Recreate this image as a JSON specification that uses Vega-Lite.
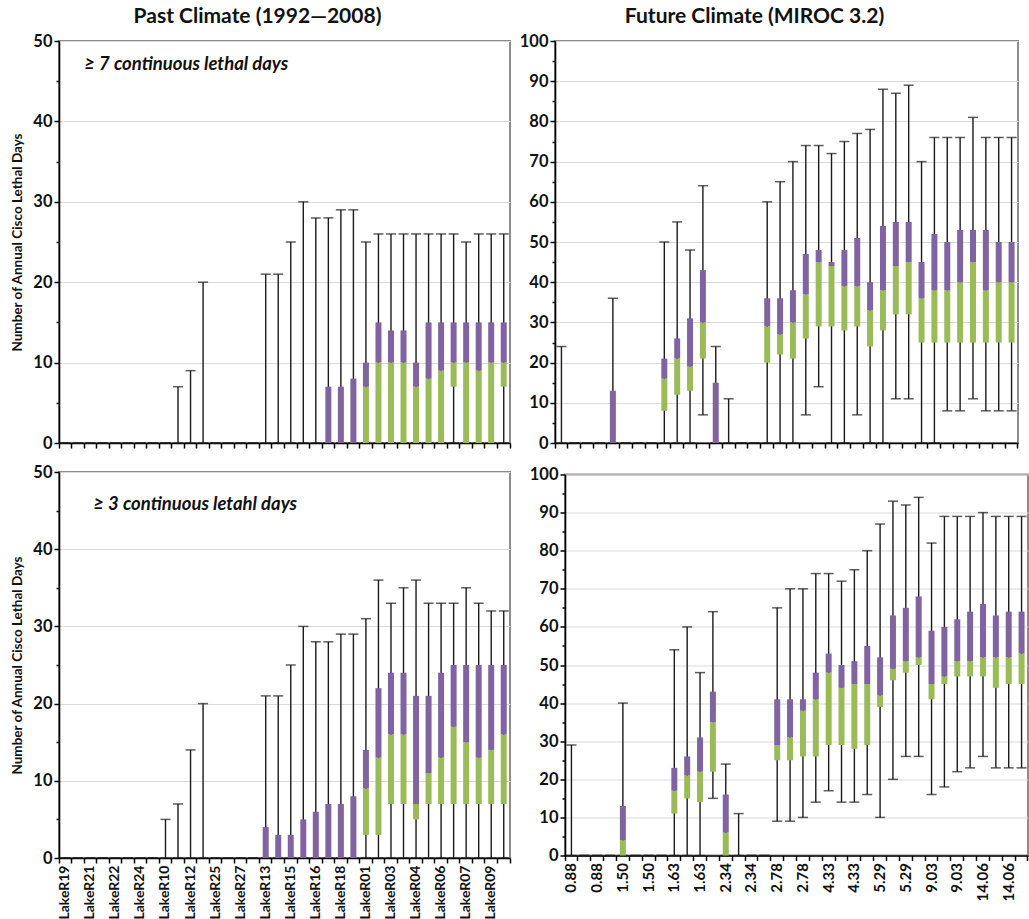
{
  "$schema": "https://vega.github.io/schema/vega-lite/v6.json",
  "background": "white",
  "padding": {"left": 9, "top": 5, "right": 0, "bottom": 0},
  "config": {
    "view": {"stroke": "#8c8c8c", "strokeWidth": 2},
    "font": "Lato",
    "axis": {"labelFont": "Lato", "titleFont": "Lato"}
  },
  "datasets": {
    "past7": [
      {"k":0,"lo":0,"q1":0,"med":0,"q3":0,"hi":0},{"k":1,"lo":0,"q1":0,"med":0,"q3":0,"hi":0},{"k":2,"lo":0,"q1":0,"med":0,"q3":0,"hi":0},{"k":3,"lo":0,"q1":0,"med":0,"q3":0,"hi":0},
      {"k":4,"lo":0,"q1":0,"med":0,"q3":0,"hi":0},{"k":5,"lo":0,"q1":0,"med":0,"q3":0,"hi":0},{"k":6,"lo":0,"q1":0,"med":0,"q3":0,"hi":0},{"k":7,"lo":0,"q1":0,"med":0,"q3":0,"hi":0},
      {"k":8,"lo":0,"q1":0,"med":0,"q3":0,"hi":0},{"k":9,"lo":0,"q1":0,"med":0,"q3":0,"hi":7},{"k":10,"lo":0,"q1":0,"med":0,"q3":0,"hi":9},{"k":11,"lo":0,"q1":0,"med":0,"q3":0,"hi":20},
      {"k":12,"lo":0,"q1":0,"med":0,"q3":0,"hi":0},{"k":13,"lo":0,"q1":0,"med":0,"q3":0,"hi":0},{"k":14,"lo":0,"q1":0,"med":0,"q3":0,"hi":0},{"k":15,"lo":0,"q1":0,"med":0,"q3":0,"hi":0},
      {"k":16,"lo":0,"q1":0,"med":0,"q3":0,"hi":21},{"k":17,"lo":0,"q1":0,"med":0,"q3":0,"hi":21},{"k":18,"lo":0,"q1":0,"med":0,"q3":0,"hi":25},{"k":19,"lo":0,"q1":0,"med":0,"q3":0,"hi":30},
      {"k":20,"lo":0,"q1":0,"med":0,"q3":0,"hi":28},{"k":21,"lo":0,"q1":0,"med":0,"q3":7,"hi":28},{"k":22,"lo":0,"q1":0,"med":0,"q3":7,"hi":29},{"k":23,"lo":0,"q1":0,"med":0,"q3":8,"hi":29},
      {"k":24,"lo":0,"q1":0,"med":7,"q3":10,"hi":25},{"k":25,"lo":0,"q1":0,"med":10,"q3":15,"hi":26},{"k":26,"lo":0,"q1":0,"med":10,"q3":14,"hi":26},{"k":27,"lo":0,"q1":0,"med":10,"q3":14,"hi":26},
      {"k":28,"lo":0,"q1":0,"med":7,"q3":10,"hi":26},{"k":29,"lo":0,"q1":0,"med":8,"q3":15,"hi":26},{"k":30,"lo":0,"q1":0,"med":9,"q3":15,"hi":26},{"k":31,"lo":0,"q1":7,"med":10,"q3":15,"hi":26},
      {"k":32,"lo":0,"q1":0,"med":10,"q3":15,"hi":25},{"k":33,"lo":0,"q1":0,"med":9,"q3":15,"hi":26},{"k":34,"lo":0,"q1":0,"med":10,"q3":15,"hi":26},{"k":35,"lo":0,"q1":7,"med":10,"q3":15,"hi":26}
    ],
    "past3": [
      {"k":0,"lo":0,"q1":0,"med":0,"q3":0,"hi":0},{"k":1,"lo":0,"q1":0,"med":0,"q3":0,"hi":0},{"k":2,"lo":0,"q1":0,"med":0,"q3":0,"hi":0},{"k":3,"lo":0,"q1":0,"med":0,"q3":0,"hi":0},
      {"k":4,"lo":0,"q1":0,"med":0,"q3":0,"hi":0},{"k":5,"lo":0,"q1":0,"med":0,"q3":0,"hi":0},{"k":6,"lo":0,"q1":0,"med":0,"q3":0,"hi":0},{"k":7,"lo":0,"q1":0,"med":0,"q3":0,"hi":0},
      {"k":8,"lo":0,"q1":0,"med":0,"q3":0,"hi":5},{"k":9,"lo":0,"q1":0,"med":0,"q3":0,"hi":7},{"k":10,"lo":0,"q1":0,"med":0,"q3":0,"hi":14},{"k":11,"lo":0,"q1":0,"med":0,"q3":0,"hi":20},
      {"k":12,"lo":0,"q1":0,"med":0,"q3":0,"hi":0},{"k":13,"lo":0,"q1":0,"med":0,"q3":0,"hi":0},{"k":14,"lo":0,"q1":0,"med":0,"q3":0,"hi":0},{"k":15,"lo":0,"q1":0,"med":0,"q3":0,"hi":0},
      {"k":16,"lo":0,"q1":0,"med":0,"q3":4,"hi":21},{"k":17,"lo":0,"q1":0,"med":0,"q3":3,"hi":21},{"k":18,"lo":0,"q1":0,"med":0,"q3":3,"hi":25},{"k":19,"lo":0,"q1":0,"med":0,"q3":5,"hi":30},
      {"k":20,"lo":0,"q1":0,"med":0,"q3":6,"hi":28},{"k":21,"lo":0,"q1":0,"med":0,"q3":7,"hi":28},{"k":22,"lo":0,"q1":0,"med":0,"q3":7,"hi":29},{"k":23,"lo":0,"q1":0,"med":0,"q3":8,"hi":29},
      {"k":24,"lo":0,"q1":3,"med":9,"q3":14,"hi":31},{"k":25,"lo":0,"q1":3,"med":13,"q3":22,"hi":36},{"k":26,"lo":0,"q1":7,"med":16,"q3":24,"hi":33},{"k":27,"lo":0,"q1":7,"med":16,"q3":24,"hi":35},
      {"k":28,"lo":0,"q1":5,"med":7,"q3":21,"hi":36},{"k":29,"lo":0,"q1":7,"med":11,"q3":21,"hi":33},{"k":30,"lo":0,"q1":7,"med":13,"q3":24,"hi":33},{"k":31,"lo":0,"q1":7,"med":17,"q3":25,"hi":33},
      {"k":32,"lo":0,"q1":7,"med":15,"q3":25,"hi":35},{"k":33,"lo":0,"q1":7,"med":13,"q3":25,"hi":33},{"k":34,"lo":0,"q1":7,"med":14,"q3":25,"hi":32},{"k":35,"lo":0,"q1":7,"med":16,"q3":25,"hi":32}
    ],
    "fut7": [
      {"k":0,"lo":0,"q1":0,"med":0,"q3":0,"hi":24},{"k":1,"lo":0,"q1":0,"med":0,"q3":0,"hi":0},{"k":2,"lo":0,"q1":0,"med":0,"q3":0,"hi":0},{"k":3,"lo":0,"q1":0,"med":0,"q3":0,"hi":0},
      {"k":4,"lo":0,"q1":0,"med":0,"q3":13,"hi":36},{"k":5,"lo":0,"q1":0,"med":0,"q3":0,"hi":0},{"k":6,"lo":0,"q1":0,"med":0,"q3":0,"hi":0},{"k":7,"lo":0,"q1":0,"med":0,"q3":0,"hi":0},
      {"k":8,"lo":0,"q1":8,"med":16,"q3":21,"hi":50},{"k":9,"lo":0,"q1":12,"med":21,"q3":26,"hi":55},{"k":10,"lo":0,"q1":13,"med":19,"q3":31,"hi":48},{"k":11,"lo":7,"q1":21,"med":30,"q3":43,"hi":64},
      {"k":12,"lo":0,"q1":0,"med":0,"q3":15,"hi":24},{"k":13,"lo":0,"q1":0,"med":0,"q3":0,"hi":11},{"k":14,"lo":0,"q1":0,"med":0,"q3":0,"hi":0},{"k":15,"lo":0,"q1":0,"med":0,"q3":0,"hi":0},
      {"k":16,"lo":0,"q1":20,"med":29,"q3":36,"hi":60},{"k":17,"lo":0,"q1":22,"med":27,"q3":36,"hi":65},{"k":18,"lo":0,"q1":21,"med":30,"q3":38,"hi":70},{"k":19,"lo":7,"q1":26,"med":37,"q3":47,"hi":74},
      {"k":20,"lo":14,"q1":29,"med":45,"q3":48,"hi":74},{"k":21,"lo":0,"q1":29,"med":44,"q3":45,"hi":72},{"k":22,"lo":0,"q1":28,"med":39,"q3":48,"hi":75},{"k":23,"lo":7,"q1":29,"med":39,"q3":51,"hi":77},
      {"k":24,"lo":0,"q1":24,"med":33,"q3":40,"hi":78},{"k":25,"lo":0,"q1":28,"med":38,"q3":54,"hi":88},{"k":26,"lo":11,"q1":32,"med":44,"q3":55,"hi":87},{"k":27,"lo":11,"q1":32,"med":45,"q3":55,"hi":89},
      {"k":28,"lo":0,"q1":25,"med":36,"q3":45,"hi":70},{"k":29,"lo":0,"q1":25,"med":38,"q3":52,"hi":76},{"k":30,"lo":8,"q1":25,"med":38,"q3":50,"hi":76},{"k":31,"lo":8,"q1":25,"med":40,"q3":53,"hi":76},
      {"k":32,"lo":11,"q1":25,"med":45,"q3":53,"hi":81},{"k":33,"lo":8,"q1":25,"med":38,"q3":53,"hi":76},{"k":34,"lo":8,"q1":25,"med":40,"q3":50,"hi":76},{"k":35,"lo":8,"q1":25,"med":40,"q3":50,"hi":76}
    ],
    "fut3": [
      {"k":0,"lo":0,"q1":0,"med":0,"q3":0,"hi":29},{"k":1,"lo":0,"q1":0,"med":0,"q3":0,"hi":0},{"k":2,"lo":0,"q1":0,"med":0,"q3":0,"hi":0},{"k":3,"lo":0,"q1":0,"med":0,"q3":0,"hi":0},
      {"k":4,"lo":0,"q1":0,"med":4,"q3":13,"hi":40},{"k":5,"lo":0,"q1":0,"med":0,"q3":0,"hi":0},{"k":6,"lo":0,"q1":0,"med":0,"q3":0,"hi":0},{"k":7,"lo":0,"q1":0,"med":0,"q3":0,"hi":0},
      {"k":8,"lo":0,"q1":11,"med":17,"q3":23,"hi":54},{"k":9,"lo":0,"q1":15,"med":21,"q3":26,"hi":60},{"k":10,"lo":0,"q1":14,"med":22,"q3":31,"hi":48},{"k":11,"lo":15,"q1":22,"med":35,"q3":43,"hi":64},
      {"k":12,"lo":0,"q1":0,"med":6,"q3":16,"hi":24},{"k":13,"lo":0,"q1":0,"med":0,"q3":0,"hi":11},{"k":14,"lo":0,"q1":0,"med":0,"q3":0,"hi":0},{"k":15,"lo":0,"q1":0,"med":0,"q3":0,"hi":0},
      {"k":16,"lo":9,"q1":25,"med":29,"q3":41,"hi":65},{"k":17,"lo":9,"q1":25,"med":31,"q3":41,"hi":70},{"k":18,"lo":10,"q1":26,"med":38,"q3":41,"hi":70},{"k":19,"lo":14,"q1":26,"med":41,"q3":48,"hi":74},
      {"k":20,"lo":17,"q1":29,"med":48,"q3":53,"hi":74},{"k":21,"lo":14,"q1":29,"med":44,"q3":50,"hi":72},{"k":22,"lo":14,"q1":28,"med":45,"q3":51,"hi":75},{"k":23,"lo":16,"q1":29,"med":45,"q3":55,"hi":80},
      {"k":24,"lo":10,"q1":39,"med":42,"q3":52,"hi":87},{"k":25,"lo":20,"q1":46,"med":49,"q3":63,"hi":93},{"k":26,"lo":26,"q1":48,"med":51,"q3":65,"hi":92},{"k":27,"lo":26,"q1":50,"med":52,"q3":68,"hi":94},
      {"k":28,"lo":16,"q1":41,"med":45,"q3":59,"hi":82},{"k":29,"lo":18,"q1":45,"med":47,"q3":60,"hi":89},{"k":30,"lo":22,"q1":47,"med":51,"q3":62,"hi":89},{"k":31,"lo":23,"q1":47,"med":51,"q3":64,"hi":89},
      {"k":32,"lo":26,"q1":47,"med":52,"q3":66,"hi":90},{"k":33,"lo":23,"q1":44,"med":52,"q3":63,"hi":89},{"k":34,"lo":23,"q1":45,"med":52,"q3":64,"hi":89},{"k":35,"lo":23,"q1":45,"med":53,"q3":64,"hi":89}
    ]
  },
  "spacing": 10,
  "vconcat": [
    {
      "hconcat": [
        {
          "width": 451, "height": 402,
          "data": {"name": "past7"},
          "title": {"text": "Past Climate (1992\u20142008)", "font": "Lato", "fontSize": 21, "fontWeight": "bold", "color": "#111", "dx": -27, "offset": 6},
          "resolve": {"axis": {"x": "independent", "y": "independent"}},
          "layer": [
            {"mark": {"type": "rule", "color": "#1a1a1a", "strokeWidth": 1.4},
             "encoding": {
               "x": {"field": "k", "type": "ordinal", "scale": {"paddingInner": 0, "paddingOuter": 0},
                     "axis": {"orient": "bottom", "bandPosition": 0, "labels": false, "ticks": true, "tickSize": 5, "tickColor": "#000", "tickWidth": 1.5, "domain": true, "domainColor": "#000", "domainWidth": 1.6, "grid": false, "title": null}},
               "y": {"field": "lo", "type": "quantitative", "scale": {"domain": [0, 50], "nice": false},
                     "axis": {"orient": "left", "values": [0, 10, 20, 30, 40, 50], "grid": true, "gridColor": "#d9d9d9", "gridWidth": 1.2, "domainColor": "#000", "domainWidth": 1.6, "tickColor": "#000", "tickWidth": 1.5, "tickSize": 5, "labelFontSize": 16.5, "labelFontWeight": "bold", "labelColor": "#111", "labelPadding": 2, "title": "Number of Annual Cisco Lethal Days", "titleFontSize": 13.5, "titleFontWeight": "bold", "titleColor": "#111", "titlePadding": 8}},
               "y2": {"field": "hi"}
             }},
            {"mark": {"type": "tick", "color": "#1a1a1a", "thickness": 1.5, "size": 10},
             "encoding": {
               "x": {"field": "k", "type": "ordinal", "axis": null},
               "y": {"field": "hi", "type": "quantitative", "axis": {"orient": "left", "values": [5, 15, 25, 35, 45], "labels": false, "grid": false, "domain": false, "tickSize": 3, "tickColor": "#000", "tickWidth": 1.5, "title": null}}
             }},
            {"mark": {"type": "tick", "color": "#1a1a1a", "thickness": 1.5, "size": 10},
             "encoding": {
               "x": {"field": "k", "type": "ordinal", "axis": null},
               "y": {"field": "lo", "type": "quantitative", "axis": null}
             }},
            {"mark": {"type": "bar", "color": "#9bbb59", "size": 6},
             "encoding": {
               "x": {"field": "k", "type": "ordinal", "axis": {"orient": "bottom", "values": [35], "bandPosition": 1, "labels": false, "domain": false, "grid": false, "ticks": true, "tickSize": 5, "tickColor": "#000", "tickWidth": 1.5, "title": null}},
               "y": {"field": "q1", "type": "quantitative", "axis": null},
               "y2": {"field": "med"}
             }},
            {"mark": {"type": "bar", "color": "#8064a2", "size": 6},
             "encoding": {
               "x": {"field": "k", "type": "ordinal", "axis": null},
               "y": {"field": "med", "type": "quantitative", "axis": null},
               "y2": {"field": "q3"}
             }},
            {"data": {"values": [{"k": 2, "y": 47.1, "note": "\u2265 7 continuous lethal days"}]},
             "mark": {"type": "text", "align": "left", "baseline": "middle", "font": "Lato", "fontSize": 18.5, "fontWeight": "bold", "fontStyle": "italic", "dx": -6, "color": "#111"},
             "encoding": {
               "x": {"field": "k", "type": "ordinal", "axis": null},
               "y": {"field": "y", "type": "quantitative", "axis": null},
               "text": {"field": "note"}
             }}
          ]
        },
        {
          "width": 463, "height": 402,
          "data": {"name": "fut7"},
          "title": {"text": "Future Climate (MIROC 3.2)", "font": "Lato", "fontSize": 21, "fontWeight": "bold", "color": "#111", "dx": -32, "offset": 6},
          "resolve": {"axis": {"x": "independent", "y": "independent"}},
          "layer": [
            {"mark": {"type": "rule", "color": "#1a1a1a", "strokeWidth": 1.4},
             "encoding": {
               "x": {"field": "k", "type": "ordinal", "scale": {"paddingInner": 0, "paddingOuter": 0},
                     "axis": {"orient": "bottom", "bandPosition": 0, "labels": false, "ticks": true, "tickSize": 5, "tickColor": "#000", "tickWidth": 1.5, "domain": true, "domainColor": "#000", "domainWidth": 1.6, "grid": false, "title": null}},
               "y": {"field": "lo", "type": "quantitative", "scale": {"domain": [0, 100], "nice": false},
                     "axis": {"orient": "left", "values": [0, 10, 20, 30, 40, 50, 60, 70, 80, 90, 100], "grid": true, "gridColor": "#d9d9d9", "gridWidth": 1.2, "domainColor": "#000", "domainWidth": 1.6, "tickColor": "#000", "tickWidth": 1.5, "tickSize": 5, "labelFontSize": 16.5, "labelFontWeight": "bold", "labelColor": "#111", "labelPadding": 2, "title": null}},
               "y2": {"field": "hi"}
             }},
            {"mark": {"type": "tick", "color": "#1a1a1a", "thickness": 1.5, "size": 10},
             "encoding": {
               "x": {"field": "k", "type": "ordinal", "axis": null},
               "y": {"field": "hi", "type": "quantitative", "axis": {"orient": "left", "values": [5, 15, 25, 35, 45, 55, 65, 75, 85, 95], "labels": false, "grid": false, "domain": false, "tickSize": 3, "tickColor": "#000", "tickWidth": 1.5, "title": null}}
             }},
            {"mark": {"type": "tick", "color": "#1a1a1a", "thickness": 1.5, "size": 10},
             "encoding": {
               "x": {"field": "k", "type": "ordinal", "axis": null},
               "y": {"field": "lo", "type": "quantitative", "axis": null}
             }},
            {"mark": {"type": "bar", "color": "#9bbb59", "size": 6},
             "encoding": {
               "x": {"field": "k", "type": "ordinal", "axis": {"orient": "bottom", "values": [35], "bandPosition": 1, "labels": false, "domain": false, "grid": false, "ticks": true, "tickSize": 5, "tickColor": "#000", "tickWidth": 1.5, "title": null}},
               "y": {"field": "q1", "type": "quantitative", "axis": null},
               "y2": {"field": "med"}
             }},
            {"mark": {"type": "bar", "color": "#8064a2", "size": 6},
             "encoding": {
               "x": {"field": "k", "type": "ordinal", "axis": null},
               "y": {"field": "med", "type": "quantitative", "axis": null},
               "y2": {"field": "q3"}
             }}
          ]
        }
      ],
      "spacing": 45,
      "bounds": "flush"
    },
    {
      "hconcat": [
        {
          "width": 451, "height": 386,
          "data": {"name": "past3"},
          "resolve": {"axis": {"x": "independent", "y": "independent"}},
          "layer": [
            {"mark": {"type": "rule", "color": "#1a1a1a", "strokeWidth": 1.4},
             "encoding": {
               "x": {"field": "k", "type": "ordinal", "scale": {"paddingInner": 0, "paddingOuter": 0},
                     "axis": {"orient": "bottom", "bandPosition": 0, "labels": false, "ticks": true, "tickSize": 5, "tickColor": "#000", "tickWidth": 1.5, "domain": true, "domainColor": "#000", "domainWidth": 1.6, "grid": false, "title": null}},
               "y": {"field": "lo", "type": "quantitative", "scale": {"domain": [0, 50], "nice": false},
                     "axis": {"orient": "left", "values": [0, 10, 20, 30, 40, 50], "grid": true, "gridColor": "#d9d9d9", "gridWidth": 1.2, "domainColor": "#000", "domainWidth": 1.6, "tickColor": "#000", "tickWidth": 1.5, "tickSize": 5, "labelFontSize": 16.5, "labelFontWeight": "bold", "labelColor": "#111", "labelPadding": 2, "title": "Number of Annual Cisco Lethal Days", "titleFontSize": 13.5, "titleFontWeight": "bold", "titleColor": "#111", "titlePadding": 8}},
               "y2": {"field": "hi"}
             }},
            {"mark": {"type": "tick", "color": "#1a1a1a", "thickness": 1.5, "size": 10},
             "encoding": {
               "x": {"field": "k", "type": "ordinal", "axis": null},
               "y": {"field": "hi", "type": "quantitative", "axis": {"orient": "left", "values": [5, 15, 25, 35, 45], "labels": false, "grid": false, "domain": false, "tickSize": 3, "tickColor": "#000", "tickWidth": 1.5, "title": null}}
             }},
            {"mark": {"type": "tick", "color": "#1a1a1a", "thickness": 1.5, "size": 10},
             "encoding": {
               "x": {"field": "k", "type": "ordinal",
                     "axis": {"orient": "bottom", "ticks": false, "domain": false, "grid": false, "labelAngle": -90, "labelFontSize": 14, "labelFontWeight": "bold", "labelColor": "#111", "labelPadding": 7, "title": null,
                              "labelExpr": "['LakeR19','','LakeR21','','LakeR22','','LakeR24','','LakeR10','','LakeR12','','LakeR25','','LakeR27','','LakeR13','','LakeR15','','LakeR16','','LakeR18','','LakeR01','','LakeR03','','LakeR04','','LakeR06','','LakeR07','','LakeR09',''][datum.value]"}},
               "y": {"field": "lo", "type": "quantitative", "axis": null}
             }},
            {"mark": {"type": "bar", "color": "#9bbb59", "size": 6},
             "encoding": {
               "x": {"field": "k", "type": "ordinal", "axis": {"orient": "bottom", "values": [35], "bandPosition": 1, "labels": false, "domain": false, "grid": false, "ticks": true, "tickSize": 5, "tickColor": "#000", "tickWidth": 1.5, "title": null}},
               "y": {"field": "q1", "type": "quantitative", "axis": null},
               "y2": {"field": "med"}
             }},
            {"mark": {"type": "bar", "color": "#8064a2", "size": 6},
             "encoding": {
               "x": {"field": "k", "type": "ordinal", "axis": null},
               "y": {"field": "med", "type": "quantitative", "axis": null},
               "y2": {"field": "q3"}
             }},
            {"data": {"values": [{"k": 2, "y": 45.9, "note": "\u2265 3 continuous letahl days"}]},
             "mark": {"type": "text", "align": "left", "baseline": "middle", "font": "Lato", "fontSize": 18.5, "fontWeight": "bold", "fontStyle": "italic", "dx": 3, "color": "#111"},
             "encoding": {
               "x": {"field": "k", "type": "ordinal", "axis": null},
               "y": {"field": "y", "type": "quantitative", "axis": null},
               "text": {"field": "note"}
             }}
          ]
        },
        {
          "width": 463, "height": 381,
          "data": {"name": "fut3"},
          "resolve": {"axis": {"x": "independent", "y": "independent"}},
          "layer": [
            {"mark": {"type": "rule", "color": "#1a1a1a", "strokeWidth": 1.4},
             "encoding": {
               "x": {"field": "k", "type": "ordinal", "scale": {"paddingInner": 0, "paddingOuter": 0},
                     "axis": {"orient": "bottom", "bandPosition": 0, "labels": false, "ticks": true, "tickSize": 5, "tickColor": "#000", "tickWidth": 1.5, "domain": true, "domainColor": "#000", "domainWidth": 1.6, "grid": false, "title": null}},
               "y": {"field": "lo", "type": "quantitative", "scale": {"domain": [0, 100], "nice": false},
                     "axis": {"orient": "left", "values": [0, 10, 20, 30, 40, 50, 60, 70, 80, 90, 100], "grid": true, "gridColor": "#d9d9d9", "gridWidth": 1.2, "domainColor": "#000", "domainWidth": 1.6, "tickColor": "#000", "tickWidth": 1.5, "tickSize": 5, "labelFontSize": 16.5, "labelFontWeight": "bold", "labelColor": "#111", "labelPadding": 2, "title": null}},
               "y2": {"field": "hi"}
             }},
            {"mark": {"type": "tick", "color": "#1a1a1a", "thickness": 1.5, "size": 10},
             "encoding": {
               "x": {"field": "k", "type": "ordinal", "axis": null},
               "y": {"field": "hi", "type": "quantitative", "axis": {"orient": "left", "values": [5, 15, 25, 35, 45, 55, 65, 75, 85, 95], "labels": false, "grid": false, "domain": false, "tickSize": 3, "tickColor": "#000", "tickWidth": 1.5, "title": null}}
             }},
            {"mark": {"type": "tick", "color": "#1a1a1a", "thickness": 1.5, "size": 10},
             "encoding": {
               "x": {"field": "k", "type": "ordinal",
                     "axis": {"orient": "bottom", "ticks": false, "domain": false, "grid": false, "labelAngle": -90, "labelFontSize": 15, "labelFontWeight": "bold", "labelColor": "#111", "labelPadding": 7, "title": null,
                              "labelExpr": "['0.88','','0.88','','1.50','','1.50','','1.63','','1.63','','2.34','','2.34','','2.78','','2.78','','4.33','','4.33','','5.29','','5.29','','9.03','','9.03','','14.06','','14.06',''][datum.value]"}},
               "y": {"field": "lo", "type": "quantitative", "axis": null}
             }},
            {"mark": {"type": "bar", "color": "#9bbb59", "size": 6},
             "encoding": {
               "x": {"field": "k", "type": "ordinal", "axis": {"orient": "bottom", "values": [35], "bandPosition": 1, "labels": false, "domain": false, "grid": false, "ticks": true, "tickSize": 5, "tickColor": "#000", "tickWidth": 1.5, "title": null}},
               "y": {"field": "q1", "type": "quantitative", "axis": null},
               "y2": {"field": "med"}
             }},
            {"mark": {"type": "bar", "color": "#8064a2", "size": 6},
             "encoding": {
               "x": {"field": "k", "type": "ordinal", "axis": null},
               "y": {"field": "med", "type": "quantitative", "axis": null},
               "y2": {"field": "q3"}
             }}
          ]
        }
      ],
      "spacing": 55,
      "bounds": "flush",
      "center": true
    }
  ]
}
